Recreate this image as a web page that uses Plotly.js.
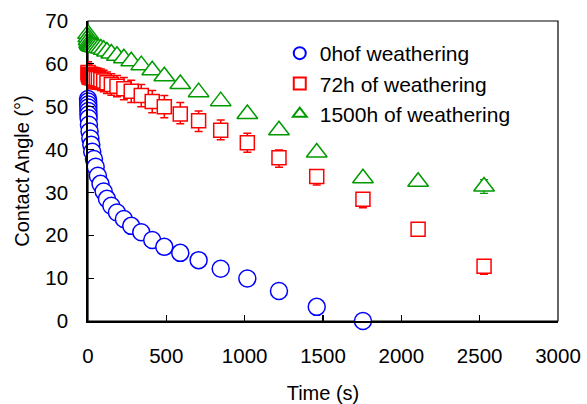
<!DOCTYPE html>
<html>
<head>
<meta charset="utf-8">
<script src="https://cdn.plot.ly/plotly-3.0.1.min.js"></script>
<style>html,body{margin:0;padding:0;background:#fff;}#chart{width:587px;height:404px;}</style>
</head>
<body>
<div id="chart"></div>
<script>
// Series names
const seriesNames = ["0hof weathering", "72h of weathering", "1500h of weathering"];

// 0 h of weathering
const t0h = [0, 1, 1.5, 2, 2.5, 3, 4, 6, 10, 15, 21, 27, 38, 49, 63, 80, 100, 121, 149, 185, 229, 276, 340, 410, 487, 589, 706, 847, 1017, 1219, 1460, 1755];
const angle0h = [51.8, 51.2, 50.5, 49.8, 49.0, 48.2, 47.3, 45.8, 44.2, 42.6, 41.1, 39.5, 37.8, 36.0, 33.9, 32.0, 30.2, 28.5, 26.9, 25.3, 23.8, 22.2, 20.7, 18.9, 17.3, 15.9, 14.2, 12.2, 9.9, 7.0, 3.3, 0.0];

// 72 h of weathering
const t72h = [0, 2, 4, 7, 11, 16, 22, 30, 40, 52, 66, 82, 100, 121, 149, 185, 229, 276, 340, 410, 487, 589, 706, 847, 1017, 1219, 1460, 1755, 2107, 2528];
const angle72h = [58.0, 57.6, 57.3, 57.0, 56.9, 56.8, 56.8, 56.7, 56.7, 56.6, 56.5, 56.3, 56.0, 55.6, 55.2, 54.8, 54.2, 53.6, 52.6, 51.2, 50.0, 48.3, 46.7, 44.5, 41.6, 38.1, 33.7, 28.4, 21.4, 12.8];
const err72hPlus = [2.5, 2.5, 2.5, 2.5, 2.5, 2.5, 2.5, 2.5, 2.5, 2.5, 2.5, 2.5, 2.5, 2.5, 2.5, 2.5, 2.6, 2.6, 2.6, 2.6, 2.6, 2.7, 2.3, 2.4, 2.2, 1.8, 1.2, 1.2, 1.0, 1.2];
const err72hMinus = [2.5, 2.5, 2.5, 2.5, 2.5, 2.5, 2.5, 2.5, 2.5, 2.5, 2.5, 2.5, 2.5, 2.5, 2.5, 2.5, 2.6, 2.6, 2.6, 2.6, 2.6, 2.3, 2.5, 2.2, 2.2, 2.2, 1.95, 2.0, 1.0, 1.9];

// 1500 h of weathering
const t1500h = [0, 2, 4, 7, 11, 16, 22, 30, 40, 52, 66, 82, 100, 121, 149, 185, 229, 276, 340, 410, 487, 589, 706, 847, 1017, 1219, 1460, 1755, 2107, 2528];
const angle1500h = [67.0, 66.2, 65.5, 64.9, 64.5, 64.3, 64.1, 64.0, 63.9, 63.8, 63.7, 63.6, 63.3, 62.9, 62.4, 61.9, 61.3, 60.6, 59.7, 58.5, 57.1, 55.3, 53.4, 51.3, 48.3, 44.5, 39.3, 33.3, 32.5, 31.4];
const err1500h = [0, 0, 0, 0, 0, 0, 0, 0, 0, 0, 0, 0, 0, 0, 0, 0, 0, 0, 0, 0, 0, 0, 0, 0, 0, 0, 0, 0, 0, 1.6];

// Axis ticks
const xTicks = [0, 500, 1000, 1500, 2000, 2500, 3000];
const yTicks = [0, 10, 20, 30, 40, 50, 60, 70];

const FONT = "Liberation Sans, Arial, sans-serif";

const traces = [
  {
    x: t0h, y: angle0h, name: seriesNames[0], type: "scatter", mode: "markers",
    marker: {symbol: "circle", size: 17, color: "rgba(255,255,255,1)", line: {color: "#0000ff", width: 1.5}},
    cliponaxis: false
  },
  {
    x: t72h, y: angle72h, name: seriesNames[1], type: "scatter", mode: "markers",
    marker: {symbol: "square", size: 14, color: "rgba(255,255,255,1)", line: {color: "#ff0000", width: 1.5}},
    error_y: {type: "data", symmetric: false, array: err72hPlus, arrayminus: err72hMinus, color: "#ff0000", thickness: 1.5, width: 4},
    cliponaxis: false
  },
  {
    x: t1500h, y: angle1500h, name: seriesNames[2], type: "scatter", mode: "markers",
    marker: {symbol: "triangle-up", size: 18, color: "rgba(255,255,255,1)", line: {color: "#009900", width: 1.5}},
    error_y: {type: "data", array: err1500h, color: "#009900", thickness: 1.2, width: 4},
    cliponaxis: false
  }
];

const layout = {
  width: 587, height: 404,
  margin: {l: 88, r: 29, t: 21, b: 83, pad: 0},
  paper_bgcolor: "#ffffff", plot_bgcolor: "#ffffff",
  font: {family: FONT, size: 20, color: "#000000"},
  showlegend: true,
  legend: {
    x: 0.408, y: 0.96, xanchor: "left", yanchor: "top",
    bgcolor: "rgba(0,0,0,0)", borderwidth: 0,
    font: {family: FONT, size: 21, color: "#000000"},
    itemsizing: "constant", tracegroupgap: 0
  },
  xaxis: {
    range: [0, 3000], tickvals: xTicks, ticktext: xTicks.map(String),
    ticks: "inside", ticklen: 6, tickwidth: 1.2, tickcolor: "#000",
    showline: true, linecolor: "#000", linewidth: 2, mirror: false,
    showgrid: false, zeroline: false,
    ticklabelstandoff: 15,
    tickfont: {family: FONT, size: 20.5, color: "#000"},
    title: {text: "Time (s)", font: {family: FONT, size: 20, color: "#000"}, standoff: 20}
  },
  yaxis: {
    range: [0, 70], tickvals: yTicks, ticktext: yTicks.map(String),
    ticks: "inside", ticklen: 6, tickwidth: 1.2, tickcolor: "#000",
    showline: true, linecolor: "#000", linewidth: 1.8, mirror: false,
    showgrid: false, zeroline: false,
    ticklabelstandoff: 14,
    tickfont: {family: FONT, size: 20.5, color: "#000"},
    title: {text: "Contact Angle (°)", font: {family: FONT, size: 20, color: "#000"}, standoff: 10}
  },
  shapes: [
    {type: "rect", xref: "paper", yref: "paper", x0: 0, x1: 1, y0: 0, y1: 1, line: {color: "#000", width: 1.2}, layer: "below"}
  ]
};

Plotly.newPlot("chart", traces, layout, {displayModeBar: false, staticPlot: true});
</script>
</body>
</html>
